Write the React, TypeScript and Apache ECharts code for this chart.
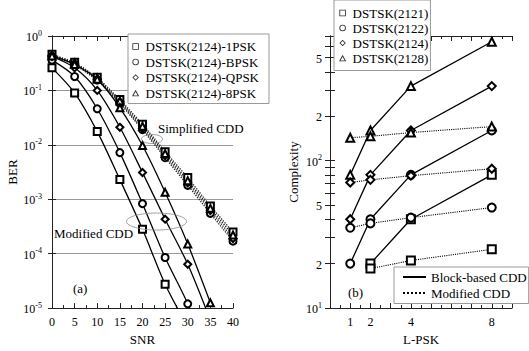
import { useEffect, useRef } from 'react';
import * as echarts from 'echarts';

// ---------- Left chart (a): BER vs SNR ----------
const snr = [0, 5, 10, 15, 20, 25, 30, 35, 40];
const leftNames = ['DSTSK(2124)-1PSK', 'DSTSK(2124)-BPSK', 'DSTSK(2124)-QPSK', 'DSTSK(2124)-8PSK'];
// Modified CDD (solid curves); last values fall below the axis minimum (line runs off the bottom)
const mod1PSK = [0.26, 0.09, 0.0175, 0.0023, 2.8e-4, 2.75e-5, 4.5e-6];
const modBPSK = [0.36, 0.18, 0.046, 0.0072, 8.3e-4, 8.5e-5, 1.2e-5, 1e-6];
const modQPSK = [0.42, 0.26, 0.1, 0.021, 0.0031, 4.3e-4, 6.4e-5, 6e-6];
const mod8PSK = [0.43, 0.3, 0.16, 0.048, 0.0097, 0.00134, 1.5e-4, 1.25e-5];
// Simplified CDD (dotted curves)
const simp1PSK = [0.46, 0.33, 0.175, 0.068, 0.024, 0.0075, 0.0025, 7.5e-4, 2.5e-4];
const simpBPSK = [0.42, 0.3, 0.155, 0.058, 0.019, 0.0058, 0.0018, 5.5e-4, 1.7e-4];
const simpQPSK = [0.44, 0.31, 0.16, 0.061, 0.02, 0.0063, 0.002, 6.2e-4, 1.9e-4];
const simp8PSK = [0.45, 0.32, 0.168, 0.064, 0.022, 0.0069, 0.0022, 6.8e-4, 2.2e-4];

// ---------- Right chart (b): Complexity vs L-PSK ----------
const lpsk = [1, 2, 4, 8];
const rightNames = ['DSTSK(2121)', 'DSTSK(2122)', 'DSTSK(2124)', 'DSTSK(2128)'];
const block2121 = [null, 20, 40, 80];
const block2122 = [20, 40, 80, 160];
const block2124 = [40, 80, 160, 320];
const block2128 = [80, 160, 320, 640];
const modi2121 = [null, 18.5, 21, 25];
const modi2122 = [35, 37.5, 41, 48];
const modi2124 = [71, 74, 79, 88];
const modi2128 = [143, 146, 155, 170];
const rightYLabels = [10, 20, 50, 100, 200, 500];
const rightYTicks = [10, 20, 30, 40, 50, 60, 70, 80, 90, 100, 200, 300, 400, 500, 600, 700];

const symbols = ['emptyRect', 'emptyCircle', 'emptyDiamond', 'emptyTriangle'];
// thin hollow legend icons (outer shape minus inner shape)
const legendIcons = [
  'path://M0,0H10V10H0Z M1.3,1.3V8.7H8.7V1.3Z',
  'path://M5,0A5,5 0 1,1 5,10A5,5 0 1,1 5,0Z M5,1.3A3.7,3.7 0 1,0 5,8.7A3.7,3.7 0 1,0 5,1.3Z',
  'path://M5,0L10,5L5,10L0,5Z M5,1.8L1.8,5L5,8.2L8.2,5Z',
  'path://M5,0L10,9L0,9Z M5,2.6L2.1,7.9L7.9,7.9Z',
];
const FONT = 'Liberation Serif';

const pairs = (xs: number[], ys: (number | null)[]) =>
  xs.map((x, i) => [x, ys[i]]).filter((p) => p[1] !== null && p[1] !== undefined);

const isPow10 = (v: number) => Math.abs(Math.log10(v) - Math.round(Math.log10(v))) < 1e-6;
const logLabel = (v: number) => {
  if (isPow10(v)) return `{b|10}{s|${Math.round(Math.log10(v))}}`;
  const d = v / Math.pow(10, Math.floor(Math.log10(v) + 1e-9));
  return `{b|${Math.round(d)}}`;
};
const rich = {
  b: { fontSize: 12, fontFamily: FONT, color: '#000', verticalAlign: 'bottom', lineHeight: 14 },
  s: { fontSize: 8, fontFamily: FONT, color: '#000', verticalAlign: 'top', lineHeight: 8 },
};

const axisLine = { lineStyle: { color: '#222', width: 1 } };
const tickStyle = { color: '#222', width: 1 };

export default function App() {
  const ref = useRef<HTMLDivElement>(null);
  useEffect(() => {
    const chart = echarts.init(ref.current!, null, { renderer: 'svg' });

    const leftMod = [mod1PSK, modBPSK, modQPSK, mod8PSK];
    const leftSimp = [simp1PSK, simpBPSK, simpQPSK, simp8PSK];
    const rightBlock = [block2121, block2122, block2124, block2128];
    const rightModi = [modi2121, modi2122, modi2124, modi2128];

    const series: any[] = [];
    leftSimp.forEach((ys, i) => {
      series.push({
        type: 'line',
        name: 'Simplified ' + leftNames[i],
        xAxisIndex: 0,
        yAxisIndex: 0,
        data: pairs(snr, ys),
        symbol: symbols[i],
        symbolSize: 7,
        lineStyle: { color: '#222', width: 1.3, type: 'dotted' },
        itemStyle: { color: '#000', borderWidth: 1 },
        z: 2,
      });
    });
    leftMod.forEach((ys, i) => {
      series.push({
        type: 'line',
        name: leftNames[i],
        xAxisIndex: 0,
        yAxisIndex: 0,
        data: pairs(snr, ys),
        symbol: symbols[i],
        symbolSize: 7,
        smooth: 0.3,
        clip: true,
        lineStyle: { color: '#000', width: 1.3 },
        itemStyle: { color: '#000', borderWidth: 1 },
        z: 3,
      });
    });
    rightBlock.forEach((ys, i) => {
      series.push({
        type: 'line',
        name: rightNames[i],
        xAxisIndex: 2,
        yAxisIndex: 2,
        data: pairs(lpsk, ys),
        symbol: symbols[i],
        symbolSize: 8,
        lineStyle: { color: '#000', width: 1.3 },
        itemStyle: { color: '#000', borderWidth: 1 },
        z: 3,
      });
    });
    rightModi.forEach((ys, i) => {
      series.push({
        type: 'line',
        name: 'Modified ' + rightNames[i],
        xAxisIndex: 2,
        yAxisIndex: 2,
        data: pairs(lpsk, ys),
        symbol: symbols[i],
        symbolSize: 8,
        lineStyle: { color: '#000', width: 1.1, type: 'dotted' },
        itemStyle: { color: '#000', borderWidth: 1 },
        z: 3,
      });
    });
    series.push({
      type: 'line', name: 'Block-based CDD', xAxisIndex: 2, yAxisIndex: 2, data: [],
      symbol: 'none', lineStyle: { color: '#000', width: 1.5 }, itemStyle: { color: '#000' },
    });
    series.push({
      type: 'line', name: 'Modified CDD', xAxisIndex: 2, yAxisIndex: 2, data: [],
      symbol: 'none', lineStyle: { color: '#000', width: 1.2, type: 'dotted' }, itemStyle: { color: '#000' },
    });

    const legendText = { fontSize: 13, fontFamily: FONT, color: '#000' };
    const legendBase = {
      orient: 'vertical',
      selectedMode: false,
      backgroundColor: '#fff',
      borderColor: '#999',
      borderWidth: 1,
      borderRadius: 0,
      textStyle: legendText,
      z: 10,
    };
    const iconItem = (n: string, i: number) => ({ name: n, icon: legendIcons[i], itemStyle: { color: '#333', borderWidth: 0 } });

    const option: any = {
      animation: false,
      backgroundColor: '#fff',
      textStyle: { fontFamily: FONT },
      grid: [
        { left: 52, top: 36, width: 181, height: 273, show: false },
        { left: 330, top: 36, width: 182, height: 272, show: false },
      ],
      xAxis: [
        {
          gridIndex: 0, type: 'value', min: 0, max: 40, interval: 5, position: 'bottom',
          name: 'SNR', nameLocation: 'middle', nameGap: 24,
          nameTextStyle: { fontSize: 13, fontFamily: FONT, color: '#000' },
          axisLine, axisTick: { inside: true, length: 5, lineStyle: tickStyle },
          minorTick: { show: true, splitNumber: 2, length: 3, lineStyle: tickStyle },
          axisLabel: { fontSize: 12, fontFamily: FONT, color: '#000', margin: 8 },
          splitLine: { show: false },
        },
        {
          gridIndex: 0, type: 'value', min: 0, max: 40, interval: 5, position: 'top',
          axisLine, axisTick: { inside: true, length: 5, lineStyle: tickStyle },
          minorTick: { show: true, splitNumber: 2, length: 3, lineStyle: tickStyle },
          axisLabel: { show: false }, splitLine: { show: false },
        },
        {
          gridIndex: 1, type: 'value', min: 0, max: 9, interval: 1, position: 'bottom',
          name: 'L-PSK', nameLocation: 'middle', nameGap: 23,
          nameTextStyle: { fontSize: 13, fontFamily: FONT, color: '#000' },
          axisLine, axisTick: { inside: true, length: 5, lineStyle: tickStyle },
          minorTick: { show: true, splitNumber: 2, length: 3, lineStyle: tickStyle },
          axisLabel: {
            fontSize: 12, fontFamily: FONT, color: '#000', margin: 8,
            formatter: (v: number) => (lpsk.includes(v) ? String(v) : ''),
          },
          splitLine: { show: false },
        },
        {
          gridIndex: 1, type: 'value', min: 0, max: 9, interval: 1, position: 'top',
          axisLine, axisTick: { inside: true, length: 5, lineStyle: tickStyle },
          minorTick: { show: true, splitNumber: 2, length: 3, lineStyle: tickStyle },
          axisLabel: { show: false }, splitLine: { show: false },
        },
      ],
      yAxis: [
        {
          gridIndex: 0, type: 'log', logBase: 10, min: 1e-5, max: 1, position: 'left',
          name: 'BER', nameLocation: 'middle', nameGap: 28,
          nameTextStyle: { fontSize: 13, fontFamily: FONT, color: '#000' },
          axisLine, axisTick: { inside: true, length: 4, lineStyle: tickStyle },
          axisLabel: { formatter: logLabel, rich, margin: 10 },
          splitLine: { show: true, lineStyle: { color: '#999', width: 1 } },
        },
        {
          gridIndex: 0, type: 'log', logBase: 10, min: 1e-5, max: 1, position: 'right',
          axisLine, axisTick: { inside: true, length: 4, lineStyle: tickStyle },
          axisLabel: { show: false }, splitLine: { show: false },
        },
        {
          gridIndex: 1, type: 'log', logBase: 10, min: 10, max: 700, position: 'left',
          name: 'Complexity', nameLocation: 'middle', nameGap: 30,
          nameTextStyle: { fontSize: 13, fontFamily: FONT, color: '#000' },
          axisLine,
          axisTick: { inside: true, length: 5, customValues: rightYTicks, lineStyle: tickStyle },
          axisLabel: { formatter: logLabel, rich, margin: 8, customValues: rightYLabels },
          splitLine: { show: false },
        },
        {
          gridIndex: 1, type: 'log', logBase: 10, min: 10, max: 700, position: 'right',
          axisLine,
          axisTick: { inside: true, length: 5, customValues: rightYTicks, lineStyle: tickStyle },
          axisLabel: { show: false }, splitLine: { show: false },
        },
      ],
      legend: [
        {
          ...legendBase,
          left: 128, top: 34,
          padding: [6, 10, 4, 4],
          itemWidth: 10, itemHeight: 6.5, itemGap: 2.5,
          data: leftNames.map(iconItem),
        },
        {
          ...legendBase,
          left: 334, top: 0,
          padding: [6.5, 2, 6, 5],
          itemWidth: 10, itemHeight: 6.5, itemGap: 2,
          data: rightNames.map(iconItem),
        },
        {
          ...legendBase,
          left: 394, top: 267,
          padding: [3.5, 2, 4, 8],
          itemWidth: 23, itemHeight: 10, itemGap: 3,
          data: [
            { name: 'Block-based CDD', itemStyle: { opacity: 0 } },
            { name: 'Modified CDD', itemStyle: { opacity: 0 } },
          ],
        },
      ],
      graphic: [
        { type: 'ellipse', shape: { cx: 152, cy: 139, rx: 10.5, ry: 4.5 }, style: { fill: 'none', stroke: '#888', lineWidth: 0.8 }, z: 5 },
        { type: 'ellipse', shape: { cx: 156.5, cy: 221.5, rx: 30, ry: 8.5 }, style: { fill: 'none', stroke: '#888', lineWidth: 0.8 }, z: 5 },
        { type: 'text', x: 158, y: 128, style: { text: 'Simplified CDD', fontSize: 13, fontFamily: FONT, fill: '#000', verticalAlign: 'middle' }, z: 5 },
        { type: 'text', x: 54, y: 233, style: { text: 'Modified CDD', fontSize: 13, fontFamily: FONT, fill: '#000', verticalAlign: 'middle' }, z: 5 },
        { type: 'text', x: 73, y: 288, style: { text: '(a)', fontSize: 13, fontFamily: FONT, fill: '#000', verticalAlign: 'middle' }, z: 5 },
        { type: 'text', x: 348, y: 292, style: { text: '(b)', fontSize: 13, fontFamily: FONT, fill: '#000', verticalAlign: 'middle' }, z: 5 },
      ],
      series,
    };

    chart.setOption(option);
    return () => chart.dispose();
  }, []);
  return <div ref={ref} style={{ position: 'absolute', left: 0, top: 0, width: 529, height: 351 }} />;
}
